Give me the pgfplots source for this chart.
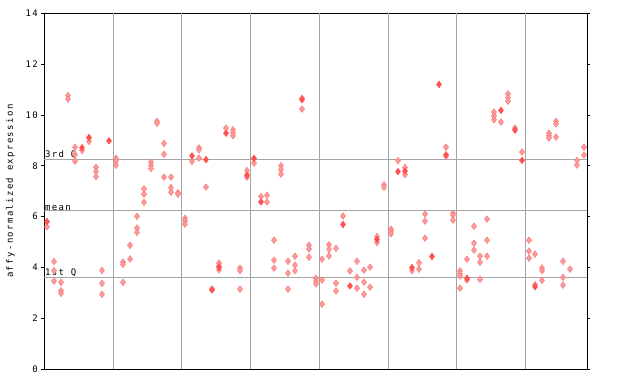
\documentclass[border=0pt]{standalone}
\usepackage{pgfplots}
\pgfplotsset{compat=1.18}
\usepackage{fontspec}
\setmonofont{DejaVu Sans Mono}
\newfontfamily\pix{DejaVu Sans Mono}[LetterSpace=15]
\definecolor{ptred}{RGB}{255,80,80}
\definecolor{ptpink}{RGB}{250,155,155}
\definecolor{ptpinkd}{RGB}{250,120,120}
\definecolor{gridg}{RGB}{165,165,165}
\begin{document}
\begin{tikzpicture}
\useasboundingbox (-44.3pt,-15pt) rectangle (595.7pt,369pt);
\begin{axis}[
  at={(0,0)}, anchor=south west,
  scale only axis, width=542.7pt, height=355.7pt,
  xmin=44.3, xmax=587, ymin=0, ymax=14,
  ytick={0,2,...,14},
  xtick=\empty,
  tick align=outside,
  major tick length=3pt,
  ytick pos=both,
  yticklabel pos=left,
  tick style={black, line width=0.8pt},
  axis line style={black, line width=1pt},
  font=\pix\fontsize{9}{10}\selectfont,
  /pgf/number format/assume math mode=true,
  yticklabel style={font=\pix\fontsize{9}{10}\selectfont},
  clip=false,
]
% grid lines
\foreach \gx in {113.7,181.5,250.3,319.3,388.3,456.5,525.3}{
  \edef\tmp{\noexpand\draw[gridg, line width=1pt] (axis cs:\gx,0) -- (axis cs:\gx,14);}\tmp
}
\draw[gridg, line width=1pt] (axis cs:44.3,8.23) -- (axis cs:587,8.23);
\draw[gridg, line width=1pt] (axis cs:44.3,6.22) -- (axis cs:587,6.22);
\draw[gridg, line width=1pt] (axis cs:44.3,3.62) -- (axis cs:587,3.62);
\node[anchor=south west, inner sep=0.6pt, font=\pix\fontsize{9}{10}\selectfont] at (axis cs:44.3,8.23) {3rd Q};
\node[anchor=south west, inner sep=0.6pt, font=\pix\fontsize{9}{10}\selectfont] at (axis cs:44.3,6.22) {mean};
\node[anchor=south west, inner sep=0.6pt, font=\pix\fontsize{9}{10}\selectfont] at (axis cs:44.3,3.62) {1st Q};
\node[rotate=90, anchor=center, inner sep=0pt, font=\pix\fontsize{9}{10}\selectfont] at ([xshift=-34pt]rel axis cs:0,0.5) {affy-normalized expression};
% hollow (checkered) points
\addplot[only marks, mark=diamond*, mark size=3.4pt, mark options={fill=ptpink, draw=ptpinkd, line width=0.4pt}] table {
x y
47 5.60
54 4.23
54 3.87
54 3.46
61 3.41
61 3.08
61 2.98
68 10.76
68 10.62
75 8.73
75 8.44
75 8.18
82 8.60
89 8.96
96 7.94
96 7.77
96 7.57
102 3.88
102 3.37
102 2.94
116 8.29
116 8.19
116 8.02
123 4.21
123 4.12
123 3.41
130 4.87
130 4.33
137 6.01
137 5.55
137 5.38
144 7.09
144 6.88
144 6.56
151 8.14
151 8.01
151 7.89
157 9.75
157 9.67
164 8.88
164 8.45
164 7.55
171 7.55
171 7.14
171 6.96
178 6.94
178 6.88
185 5.93
185 5.83
185 5.70
192 8.17
199 8.70
199 8.63
199 8.30
206 7.16
212 3.15
219 4.17
219 4.06
219 3.90
226 9.48
233 9.42
233 9.30
233 9.18
240 3.97
240 3.87
240 3.14
247 7.81
247 7.55
254 8.10
261 6.79
267 6.84
267 6.57
274 5.07
274 4.28
274 3.97
281 8.00
281 7.85
281 7.67
288 4.24
288 3.77
288 3.14
295 4.44
295 4.09
295 3.87
302 10.66
302 10.23
309 4.87
309 4.72
309 4.40
316 3.57
316 3.46
316 3.35
322 4.32
322 3.50
322 2.55
329 4.89
329 4.71
329 4.45
336 4.75
336 3.38
336 3.07
343 6.02
350 3.86
357 4.24
357 3.61
357 3.18
364 3.89
364 3.42
364 2.94
370 4.01
370 3.22
377 5.21
377 4.98
384 7.25
384 7.15
391 5.50
391 5.41
391 5.32
398 8.20
405 7.93
405 7.65
412 3.87
419 4.18
419 3.93
425 6.10
425 5.82
425 5.15
446 8.73
446 8.37
453 6.13
453 6.05
453 5.86
460 3.86
460 3.75
460 3.66
460 3.18
467 4.32
467 3.50
474 5.62
474 4.95
474 4.68
480 4.44
480 4.20
480 3.53
487 5.90
487 5.07
487 4.44
494 10.11
494 9.96
494 9.81
501 9.72
508 10.83
508 10.68
508 10.54
515 9.48
522 8.54
529 5.07
529 4.64
529 4.36
535 4.52
535 3.32
542 3.97
542 3.87
542 3.49
549 9.28
549 9.18
549 9.09
556 9.75
556 9.65
556 9.13
563 4.24
563 3.61
563 3.30
570 3.93
577 8.21
577 8.03
584 8.73
584 8.42
};
% filled points
\addplot[only marks, mark=diamond*, mark size=3.4pt, mark options={fill=ptred, draw=ptred, line width=0.4pt}] table {
x y
47 5.80
82 8.71
89 9.11
109 8.98
192 8.39
206 8.24
212 3.11
219 4.00
226 9.28
247 7.63
254 8.29
261 6.58
302 10.60
343 5.69
350 3.27
377 5.10
398 7.77
405 7.79
412 3.99
432 4.43
439 11.20
446 8.43
467 3.57
501 10.18
515 9.40
522 8.21
535 3.24
};
\end{axis}
\end{tikzpicture}
\end{document}
